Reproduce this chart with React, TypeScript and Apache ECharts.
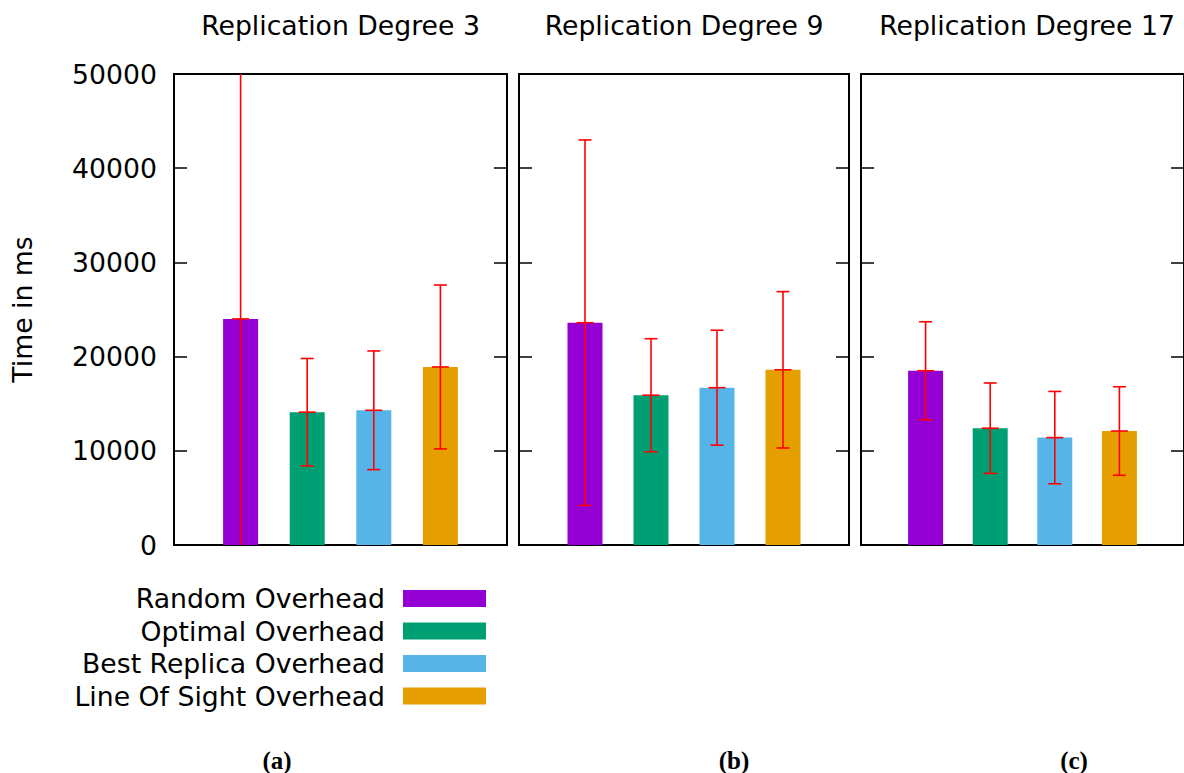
import React, { useEffect, useRef } from "react";
import * as echarts from "echarts";

const methods = ["Random Overhead", "Optimal Overhead", "Best Replica Overhead", "Line Of Sight Overhead"];
const panelTitles = ["Replication Degree 3", "Replication Degree 9", "Replication Degree 17"];
const subCaptions = ["(a)", "(b)", "(c)"];
const positions = [1, 2, 3, 4];
// mean time in ms per panel, per method
const means = [
  [24000, 14100, 14300, 18900],
  [23600, 15900, 16700, 18600],
  [18500, 12400, 11400, 12100],
];
// error (±) per panel, per method
const errors = [
  [27000, 5700, 6300, 8700],
  [19400, 6000, 6100, 8300],
  [5200, 4800, 4900, 4700],
];
const yTicks = [0, 10000, 20000, 30000, 40000, 50000];

const colors = ["#9400d3", "#009e73", "#56b4e9", "#e69f00"];
const FONT = "DejaVu Sans";
const FS = 26.7;

const grids = [
  { left: 174, width: 333 },
  { left: 519, width: 330 },
  { left: 861, width: 332 },
];

export default function App() {
  const ref = useRef<HTMLDivElement>(null);
  useEffect(() => {
    if (!ref.current) return;
    const chart = echarts.init(ref.current, undefined, { renderer: "svg" });

    const yMin = yTicks[0];
    const yMax = yTicks[yTicks.length - 1];
    const yInterval = yTicks[1] - yTicks[0];

    const grid = grids.map((g) => ({
      left: g.left,
      width: g.width,
      top: 74,
      height: 471,
      show: true,
      borderColor: "#000",
      borderWidth: 2,
      backgroundColor: "transparent",
    }));

    const xAxis = grids.map((_, i) => ({
      type: "value",
      gridIndex: i,
      min: 0,
      max: 5,
      show: false,
    }));

    const yAxis: any[] = [];
    grids.forEach((_, i) => {
      const base = {
        type: "value",
        gridIndex: i,
        min: yMin,
        max: yMax,
        interval: yInterval,
        splitLine: { show: false },
        axisLine: { show: false },
        axisTick: { show: true, inside: true, length: 13, lineStyle: { color: "#000", width: 1.5 } },
      };
      yAxis.push({
        ...base,
        position: "left",
        axisLabel: {
          show: i === 0,
          margin: 17,
          fontSize: FS,
          fontFamily: FONT,
          color: "#000",
          formatter: (v: number) => String(v),
        },
        name: i === 0 ? "Time in ms" : "",
        nameLocation: "middle",
        nameGap: 138,
        nameTextStyle: { fontSize: FS, fontFamily: FONT, color: "#000" },
      });
      yAxis.push({
        ...base,
        position: "right",
        axisLabel: { show: false },
      });
    });

    const series: any[] = [];
    grids.forEach((_, p) => {
      methods.forEach((m, k) => {
        series.push({
          type: "bar",
          name: m,
          xAxisIndex: p,
          yAxisIndex: p * 2,
          data: [[positions[k], means[p][k]]],
          barWidth: 35,
          barGap: "-100%",
          itemStyle: { color: colors[k] },
          z: 2,
        });
      });
      series.push({
        type: "custom",
        name: "err" + p,
        xAxisIndex: p,
        yAxisIndex: p * 2,
        z: 5,
        data: methods.map((_, k) => [
          positions[k],
          means[p][k] - errors[p][k],
          means[p][k] + errors[p][k],
          means[p][k],
        ]),
        encode: { x: 0, y: [1, 2] },
        renderItem: (params: any, api: any) => {
          const x = api.value(0);
          const lo = api.value(1);
          const hi = api.value(2);
          const mid = api.value(3);
          const pLo = api.coord([x, lo]);
          const pHi = api.coord([x, hi]);
          const pMid = api.coord([x, mid]);
          const cs = params.coordSys;
          const top = cs.y;
          const bottom = cs.y + cs.height;
          const px = pLo[0];
          const yTop = Math.max(pHi[1], top);
          const yBot = Math.min(pLo[1], bottom);
          const style = { stroke: "#ff0000", lineWidth: 1.6 };
          const children: any[] = [
            { type: "line", shape: { x1: px, y1: yTop, x2: px, y2: yBot }, style },
            { type: "line", shape: { x1: px - 8.5, y1: pMid[1], x2: px + 8.5, y2: pMid[1] }, style },
          ];
          if (pHi[1] >= top) {
            children.push({ type: "line", shape: { x1: px - 6.5, y1: pHi[1], x2: px + 6.5, y2: pHi[1] }, style });
          }
          if (pLo[1] <= bottom) {
            children.push({ type: "line", shape: { x1: px - 6.5, y1: pLo[1], x2: px + 6.5, y2: pLo[1] }, style });
          }
          return { type: "group", children };
        },
      });
    });

    const title: any[] = panelTitles.map((t, i) => ({
      text: t,
      left: grids[i].left + grids[i].width / 2,
      top: 12,
      textAlign: "center",
      padding: 0,
      textStyle: { fontSize: FS, fontWeight: "normal", fontFamily: FONT, color: "#000" },
    }));

    const graphic = subCaptions.map((c, i) => ({
      type: "text",
      x: [277, 734, 1074][i],
      y: 760,
      style: {
        text: c,
        font: "bold 25px 'Liberation Serif'",
        fill: "#000",
        align: "center",
        verticalAlign: "middle",
      },
    }));

    chart.setOption({
      animation: false,
      backgroundColor: "#fff",
      title,
      grid,
      xAxis,
      yAxis,
      series,
      graphic,
      legend: {
        data: methods,
        orient: "vertical",
        align: "right",
        right: 698,
        top: 585,
        padding: 0,
        itemWidth: 83,
        itemHeight: 17,
        itemGap: 5.5,
        selectedMode: false,
        icon: "rect",
        textStyle: { fontSize: FS, fontFamily: FONT, color: "#000", padding: [0, 13, 0, 0] },
      },
    });
    return () => chart.dispose();
  }, []);
  return (
    <div
      ref={ref}
      style={{ position: "absolute", left: 0, top: 0, width: 1184, height: 773 }}
    />
  );
}
